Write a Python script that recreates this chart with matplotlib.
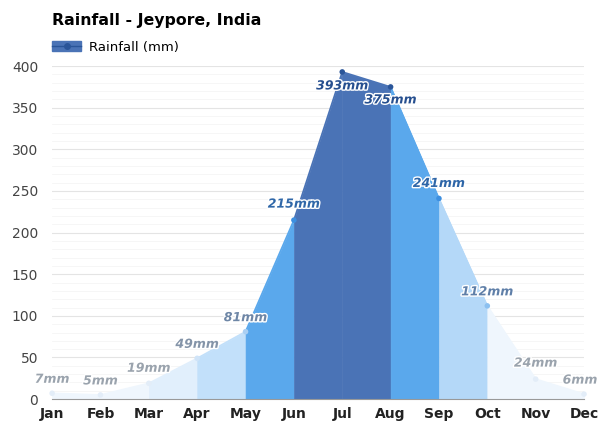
import numpy as np
import matplotlib.pyplot as plt
import matplotlib.patheffects as pe
from matplotlib.patches import Patch
from matplotlib.lines import Line2D

months = ["Jan", "Feb", "Mar", "Apr", "May", "Jun", "Jul", "Aug", "Sep", "Oct", "Nov", "Dec"]
rain = [7, 5, 19, 49, 81, 215, 393, 375, 241, 112, 24, 6]

# fill colour of the band that ends at each month (Feb..Dec)
seg_colors = ["#eff6fd", "#eff6fd", "#e1effc", "#c2e0fa", "#5aa8ec", "#4a73b6",
              "#4a73b6", "#5aa8ec", "#b4d8f8", "#eff6fd", "#eff6fd"]
dot_colors = ["#e3edf8", "#e3edf8", "#e3edf8", "#d0e4f8", "#a9cff3", "#3d8fe0",
              "#2a5599", "#2a5599", "#3d8fe0", "#8cc0f0", "#e3edf8", "#e3edf8"]
label_colors = ["#9aa3ad", "#9aa3ad", "#9aa3ad", "#8494a8", "#6e86a6", "#2f67a8",
                "#264f8f", "#264f8f", "#2e66a8", "#5f7fa8", "#9aa3ad", "#9aa3ad"]
# label offsets in pixels from each point
label_dx = [0, 0, 0, 0, 0, 0, 0, 0, 0, 0, 0, -4]
label_dy = [14, 14, 15, 14, 14, 16, -14, -13, 15, 14, 16, 14]

fig = plt.figure(figsize=(5.99, 4.21), dpi=100)
ax = fig.add_axes([0.087, 0.052, 0.888, 0.791])
x = np.arange(len(months))

for i in range(len(months) - 1):
    ax.fill_between(x[i:i + 2], rain[i:i + 2], facecolor=seg_colors[i],
                    edgecolor=seg_colors[i], lw=0.4, zorder=2)
    ax.plot(x[i:i + 2], rain[i:i + 2], color=seg_colors[i], lw=1.2, zorder=3,
            clip_on=False)

ax.scatter(x, rain, s=16, c=dot_colors, zorder=4, clip_on=False, linewidths=0)

for i, v in enumerate(rain):
    ax.annotate(f"{v}mm", (x[i], v), xytext=(label_dx[i], label_dy[i]),
                textcoords="offset pixels", ha="center", va="center",
                fontsize=9, fontstyle="italic", fontweight="bold",
                color=label_colors[i], zorder=5, annotation_clip=False,
                path_effects=[pe.withStroke(linewidth=2, foreground="white")])

ax.set_xlim(0, 11)
ax.set_ylim(0, 400)
ax.set_xticks(x)
ax.set_xticklabels(months, fontsize=10, fontweight="bold", color="#222222")
ax.set_yticks(np.arange(0, 401, 50))
ax.set_yticks(np.arange(0, 401, 10), minor=True)
ax.tick_params(axis="y", labelsize=10, labelcolor="#444444", length=0, pad=10)
ax.tick_params(axis="y", which="minor", length=0)
ax.tick_params(axis="x", length=0, pad=6)
ax.grid(axis="y", which="major", color="#e4e4e4", lw=0.8, zorder=0)
ax.grid(axis="y", which="minor", color="#f5f5f5", lw=0.6, zorder=0)
for s in ["top", "right", "left"]:
    ax.spines[s].set_visible(False)
ax.spines["bottom"].set_color("#999999")
ax.spines["bottom"].set_zorder(6)

fig.text(0.087, 0.952, "Rainfall - Jeypore, India", fontsize=11.3,
         fontweight="bold", va="center", ha="left")
handle = (Patch(facecolor="#4a73b6", edgecolor="#4a73b6"),
          Line2D([], [], color="#2a5599", marker="o", markersize=4, lw=1))
fig.legend([handle], ["Rainfall (mm)"], loc="center left",
           bbox_to_anchor=(0.067, 0.888), frameon=False, fontsize=9.5,
           handlelength=2.2, handletextpad=0.6)

plt.savefig("out.png", dpi=100)
